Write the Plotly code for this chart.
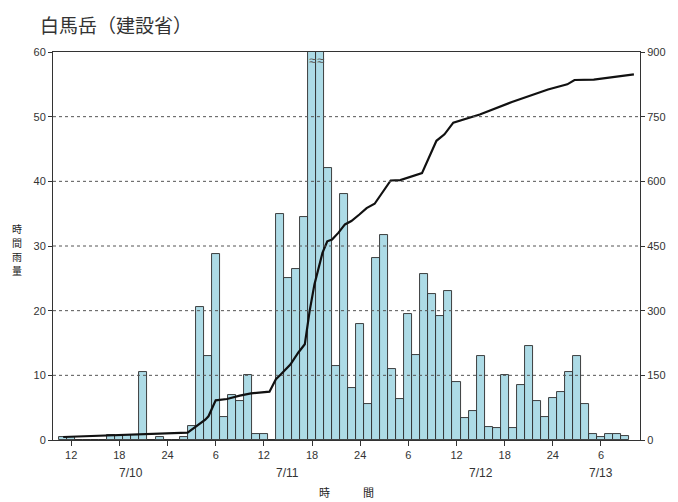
import plotly.graph_objects as go

# ---- data ----
# hour index counted from 7/10 00:00 (bar centred on the hour)
bar_hours = [11, 12, 13, 14, 15, 16, 17, 18, 19, 20,
             21, 22, 23, 24, 25, 26, 27, 28, 29, 30,
             31, 32, 33, 34, 35, 36, 37, 38, 39, 40,
             41, 42, 43, 44, 45, 46, 47, 48, 49, 50,
             51, 52, 53, 54, 55, 56, 57, 58, 59, 60,
             61, 62, 63, 64, 65, 66, 67, 68, 69, 70,
             71, 72, 73, 74, 75, 76, 77, 78, 79, 80, 81]
hourly_rain = [0.5, 0.4, 0, 0, 0, 0, 0.8, 0.6, 0.8, 0.8,
               10.5, 0, 0.5, 0, 0, 0.5, 2.2, 20.5, 13.0, 28.7,
               3.5, 7.0, 6.0, 10.0, 1.0, 1.0, 0, 35.0, 25.1, 26.5,
               34.5, 90.0, 88.0, 42.0, 11.5, 38.1, 8.1, 18.0, 5.6, 28.1,
               31.7, 11.0, 6.4, 19.5, 13.1, 25.6, 22.6, 19.1, 23.0, 8.9,
               3.4, 4.5, 13.0, 2.0, 1.9, 10.0, 1.9, 8.5, 14.5, 6.0,
               3.5, 6.5, 7.4, 10.5, 13.0, 5.5, 1.0, 0.4, 0.9, 0.9, 0.6]

# cumulative rainfall line (right axis, mm)
cum_hours = [11, 17, 21, 26.5, 28.7, 29.1, 30, 31.4, 33, 34.4,
             36.7, 37.5, 38.1, 39.3, 40.3, 41.1, 41.7, 42.3, 43.3, 43.9,
             44.5, 45.3, 46.1, 46.9, 47.9, 48.8, 49.8, 51.8, 53.0, 55.7,
             57.5, 58.5, 59.6, 62.9, 66.9, 71.4, 73.8, 74.7, 77.1, 82.1]
cum_rain = [7, 11, 14, 17, 47, 55, 92, 95, 103, 108,
            112, 141, 152, 175, 203, 222, 299, 361, 434, 461,
            465, 481, 500, 508, 523, 538, 548, 602, 603, 619,
            694, 709, 736, 755, 784, 813, 825, 835, 836, 848]

x_tick_vals = [12, 18, 24, 30, 36, 42, 48, 54, 60, 66, 72, 78]
x_tick_text = ["12", "18", "24", "6", "12", "18", "24", "6", "12", "18", "24", "6"]
date_labels = ["7/10", "7/11", "7/12", "7/13"]
date_label_hours = [19.5, 39.0, 63.0, 78.0]
y_left_ticks = [0, 10, 20, 30, 40, 50, 60]
y_right_ticks = [0, 150, 300, 450, 600, 750, 900]
grid_levels = [10, 20, 30, 40, 50]
y_left_max = 60
y_right_max = 900

title_text = "白馬岳（建設省）"
y_title = "時間雨量"
x_title = "時\u3000\u3000\u3000間"

CJK = "Noto Sans CJK JP"
NUM = "Liberation Sans"

fig = go.Figure()
fig.add_trace(go.Bar(
    x=bar_hours, y=hourly_rain, width=1,
    marker=dict(color="#addbe6", line=dict(color="#2b2b2b", width=0.9)),
    yaxis="y", showlegend=False, cliponaxis=True,
))
fig.add_trace(go.Scatter(
    x=cum_hours, y=cum_rain, mode="lines", yaxis="y2",
    line=dict(color="#111111", width=2.2), showlegend=False,
))

# dotted grid drawn above bars, as in the reference
for g in grid_levels:
    fig.add_hline(y=g, line=dict(color="#555555", width=1, dash="dot"), layer="above")

# break marks on clipped bars
for h, v in zip(bar_hours, hourly_rain):
    if v > y_left_max:
        fig.add_annotation(x=h, y=y_left_max * 0.978, text="≈", showarrow=False,
                           font=dict(size=13, color="#555", family=NUM),
                           xanchor="center", yanchor="middle")

for lbl, h in zip(date_labels, date_label_hours):
    fig.add_annotation(x=h, y=-0.085, xref="x", yref="paper", text=lbl, showarrow=False,
                       font=dict(size=12, color="#333", family=NUM),
                       xanchor="center", yanchor="middle")

fig.add_annotation(x=0.5, y=-0.134, xref="paper", yref="paper", text=x_title, showarrow=False,
                   font=dict(size=11, color="#222", family=CJK),
                   xanchor="center", yanchor="middle")
# vertical (stacked) left axis title
for i, ch in enumerate(y_title):
    fig.add_annotation(x=-0.0607, y=0.492 + (1.5 - i) * 14.0 / 388, xref="paper", yref="paper",
                       text=ch, showarrow=False,
                       font=dict(size=10, color="#222", family=CJK),
                       xanchor="center", yanchor="middle")

# chart title (as an annotation, top-left)
fig.add_annotation(x=-15 / 593.4, y=1 + 43 / 388, xref="paper", yref="paper",
                   text=title_text, showarrow=False,
                   font=dict(size=19, color="#333", family=CJK),
                   xanchor="left", yanchor="top")

fig.update_layout(
    width=670, height=494,
    margin=dict(l=45, r=31, t=44, b=62),
    paper_bgcolor="white", plot_bgcolor="white",
    bargap=0,
    xaxis=dict(range=[9.73, 82.86], tickmode="array", tickvals=x_tick_vals, ticktext=x_tick_text,
               showgrid=False, zeroline=False, showline=True, linecolor="#333", linewidth=1,
               mirror=True, ticks="outside", ticklen=5, tickcolor="#333",
               tickfont=dict(size=11, color="#333", family=NUM)),
    yaxis=dict(range=[0, y_left_max], tickmode="array", tickvals=y_left_ticks,
               showgrid=False, zeroline=False, showline=True, linecolor="#333", linewidth=1,
               ticks="outside", ticklen=4, tickcolor="#333",
               tickfont=dict(size=11, color="#333", family=NUM)),
    yaxis2=dict(range=[0, y_right_max], tickmode="array", tickvals=y_right_ticks,
                overlaying="y", side="right", showgrid=False, zeroline=False,
                showline=True, linecolor="#333", linewidth=1,
                ticks="outside", ticklen=4, tickcolor="#333",
                tickfont=dict(size=11, color="#333", family=NUM)),
)

fig.write_html("out.html")
